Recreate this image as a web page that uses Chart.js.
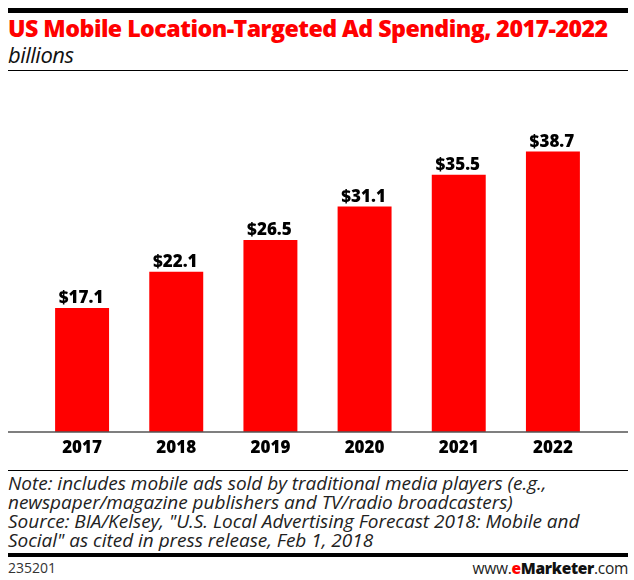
<!DOCTYPE html>
<html>
<head>
<meta charset="utf-8">
<style>
  html, body { margin: 0; padding: 0; background: #fff; }
  body { width: 634px; height: 580px; position: relative; overflow: hidden; font-family: "Open Sans", sans-serif; color: #111; }
  .rule { position: absolute; left: 8px; width: 620px; background: #000; }
  .text { position: absolute; left: 8px; white-space: nowrap; }
  #title { top: 13px; font: 800 23.2px/30px "Open Sans", sans-serif; color: #f00; letter-spacing: -0.53px; }
  #subtitle { top: 40px; font: italic 400 22px/28px "Open Sans", sans-serif; letter-spacing: -0.5px; }
  #note { top: 474px; font: italic 400 19px/19px "Open Sans", sans-serif; letter-spacing: -0.02px; color: #222; }
  #code { top: 559px; font: 400 14px/18px "Open Sans", sans-serif; color: #333; }
  #brand { position: absolute; right: 6px; top: 559px; font: 400 15.5px/18px "Open Sans", sans-serif; color: #222; letter-spacing: -0.3px; }
  #brand b { font-weight: 800; color: #111; }
  #brand i { font-style: normal; font-weight: 800; color: #f00; }
  #wrap { position: absolute; left: 8px; top: 84px; width: 620px; height: 386px; }
</style>
</head>
<body>
<div class="rule" style="top:8px;height:5px"></div>
<div class="text" id="title">US Mobile Location-Targeted Ad Spending, 2017-2022</div>
<div class="text" id="subtitle">billions</div>
<div class="rule" style="top:70px;height:1px"></div>
<div id="wrap"><canvas id="chart"></canvas></div>
<div class="rule" style="top:470px;height:1px"></div>
<div class="text" id="note">Note: includes mobile ads sold by traditional media players (e.g.,<br>newspaper/magazine publishers and TV/radio broadcasters)<br>Source: BIA/Kelsey, "U.S. Local Advertising Forecast 2018: Mobile and<br>Social" as cited in press release, Feb 1, 2018</div>
<div class="rule" style="top:553px;height:4px"></div>
<div class="text" id="code">235201</div>
<div id="brand">www.<i>e</i><b>Marketer</b>.com</div>

<script src="https://cdn.jsdelivr.net/npm/chart.js@4"></script>
<script>
const years = ["2017", "2018", "2019", "2020", "2021", "2022"];
const spending = [17.1, 22.1, 26.5, 31.1, 35.5, 38.7];
const labels = ["$17.1", "$22.1", "$26.5", "$31.1", "$35.5", "$38.7"];

const BOLD_FONT = { family: "'Open Sans', sans-serif", size: 17, weight: "800" };

// value labels above the bars and the baseline running past the plot area
const barExtras = {
  id: "barExtras",
  afterDatasetsDraw(chart) {
    const { ctx, scales } = chart;
    const y0 = scales.y.getPixelForValue(0);
    ctx.save();
    ctx.strokeStyle = "#555";
    ctx.lineWidth = 1.5;
    ctx.beginPath();
    ctx.moveTo(0, y0);
    ctx.lineTo(chart.width, y0);
    ctx.stroke();

    ctx.fillStyle = "#000";
    ctx.font = `${BOLD_FONT.weight} ${BOLD_FONT.size}px ${BOLD_FONT.family}`;
    ctx.textAlign = "center";
    ctx.textBaseline = "bottom";
    chart.getDatasetMeta(0).data.forEach((bar, i) => {
      ctx.fillText(labels[i], bar.x - 1, bar.y - 1);
    });
    ctx.restore();
  }
};

new Chart(document.getElementById("chart"), {
  type: "bar",
  data: {
    labels: years,
    datasets: [{
      data: spending,
      backgroundColor: "#ff0000",
      barPercentage: 0.573,
      categoryPercentage: 1
    }]
  },
  options: {
    responsive: true,
    maintainAspectRatio: false,
    animation: false,
    layout: { padding: { left: 27, right: 28, top: 0, bottom: 0 } },
    plugins: { legend: { display: false }, tooltip: { enabled: false } },
    scales: {
      x: {
        grid: { display: false },
        border: { display: false },
        afterFit: (axis) => { axis.height = 38; },
        ticks: { color: "#000", font: BOLD_FONT, padding: -2, maxRotation: 0 }
      },
      y: { display: false, min: 0, max: 48 }
    }
  },
  plugins: [barExtras]
});
</script>
</body>
</html>
